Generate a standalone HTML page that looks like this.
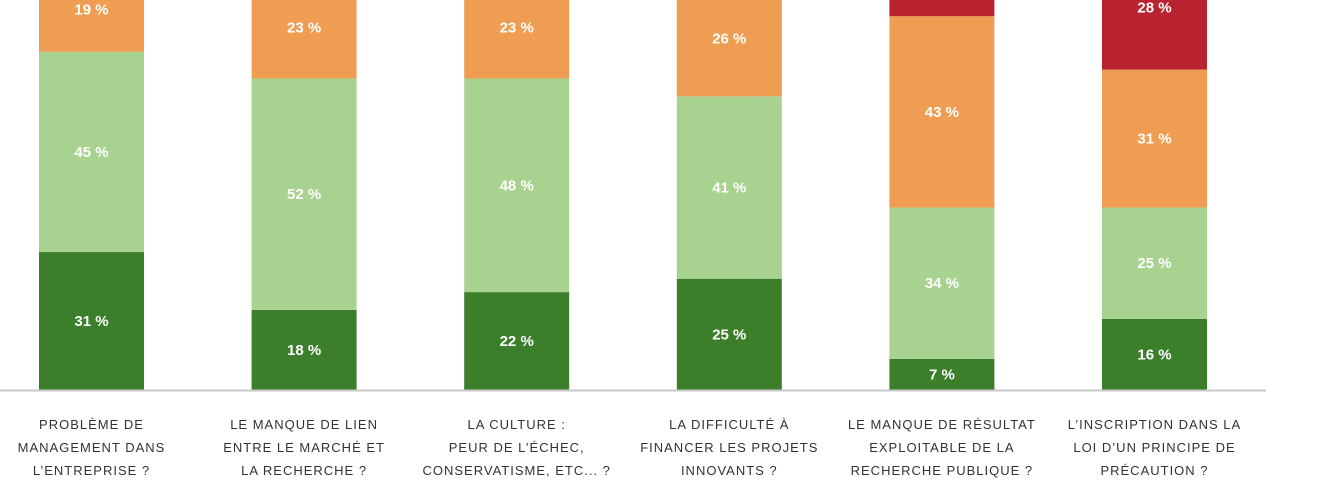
<!DOCTYPE html>
<html><head><meta charset="utf-8"><style>
html,body{margin:0;padding:0;background:#fff;width:1320px;height:500px;overflow:hidden}
svg{display:block}
</style></head><body>
<svg id="chart" width="1320" height="500" xmlns="http://www.w3.org/2000/svg" font-family="Liberation Sans, sans-serif"></svg>
<script>
const categories = [
  ["PROBLÈME DE","MANAGEMENT DANS","L’ENTREPRISE ?"],
  ["LE MANQUE DE LIEN","ENTRE LE MARCHÉ ET","LA RECHERCHE ?"],
  ["LA CULTURE :","PEUR DE L’ÉCHEC,","CONSERVATISME, ETC... ?"],
  ["LA DIFFICULTÉ À","FINANCER LES PROJETS","INNOVANTS ?"],
  ["LE MANQUE DE RÉSULTAT","EXPLOITABLE DE LA","RECHERCHE PUBLIQUE ?"],
  ["L’INSCRIPTION DANS LA","LOI D’UN PRINCIPE DE","PRÉCAUTION ?"]
];
const darkGreen = [31, 18, 22, 25, 7, 16];
const lightGreen = [45, 52, 48, 41, 34, 25];
const orange = [19, 23, 23, 26, 43, 31];
const red = [5, 7, 7, 8, 16, 28];
const seriesColors = ["#3b7f2a", "#a8d28f", "#ee9d52", "#b8232f"];
const seriesNames = ["dark-green", "light-green", "orange", "red"];

const svgNS = "http://www.w3.org/2000/svg";
const svg = document.getElementById("chart");
const baseY = 390, pxPerPct = 4.45, barW = 105;
const barX0 = 39, barStep = 212.6;
function xPos(i){ return barX0 + i * barStep; }
function yScale(v){ return v * pxPerPct; }
function mk(tag, attrs){ const e = document.createElementNS(svgNS, tag); for (const k in attrs) e.setAttribute(k, attrs[k]); svg.appendChild(e); return e; }

const series = [darkGreen, lightGreen, orange, red];
categories.forEach((cat, i) => {
  let cum = 0;
  series.forEach((s, si) => {
    const v = s[i];
    const y1 = baseY - yScale(cum), y0 = baseY - yScale(cum + v);
    const r = mk("rect", {x: xPos(i), y: y0, width: barW, height: y1 - y0, fill: seriesColors[si]});
    
    
    let cy = (y0 + y1) / 2;
    if (y1 > 40) {
      if (cy < 4) cy = 4;
      const t = mk("text", {x: xPos(i) + barW / 2, y: cy + 5, "text-anchor": "middle", fill: "#fff", "font-size": "15", "font-weight": "bold"});
      t.textContent = v + " %";
      
      
    }
    cum += v;
  });
  cat.forEach((line, li) => {
    const t = mk("text", {x: xPos(i) + barW / 2, y: 429 + li * 23, "text-anchor": "middle", fill: "#333", "font-size": "13", "letter-spacing": "1"});
    t.textContent = line;
    
    
  });
});
const axis = mk("line", {x1: 0, x2: 1266, y1: baseY + 0.5, y2: baseY + 0.5, stroke: "#c8c8c8", "stroke-width": 2});


</script>
</body></html>
